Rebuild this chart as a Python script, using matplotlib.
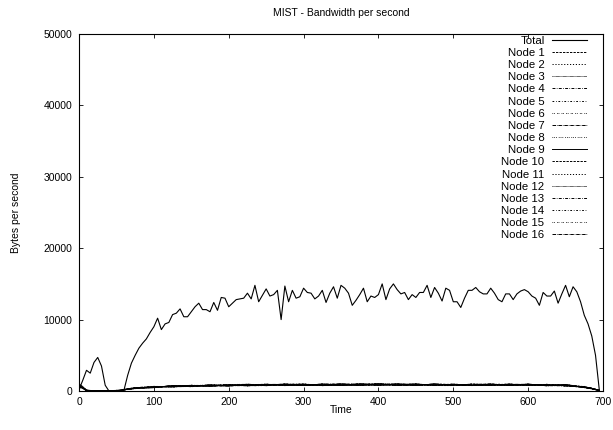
import numpy as np
import matplotlib
matplotlib.use("Agg")
import matplotlib.pyplot as plt

# sampling grid of the Total series (seconds)
total_time = list(range(0, 700, 5))
total_bytes = [
    200, 1500, 2900, 2500, 4000, 4700, 3500, 800, 0, 0,
    0, 0, 100, 2200, 3900, 5000, 6000, 6700, 7300, 8200,
    9000, 10200, 8600, 9400, 9600, 10700, 10900, 11500, 10400, 10400,
    11100, 11800, 12300, 11400, 11400, 11100, 12400, 11300, 13100, 13000,
    11800, 12300, 12800, 12900, 13000, 13700, 12900, 14800, 12500, 13400,
    14300, 13300, 13500, 14100, 10000, 14700, 12500, 14100, 13000, 13200,
    14400, 13800, 13700, 12900, 13300, 14100, 12400, 13700, 14600, 13000,
    14800, 14400, 13700, 12000, 12700, 13500, 14400, 12500, 13300, 13100,
    13500, 15000, 12800, 14300, 15000, 14200, 13600, 13800, 12800, 13500,
    13100, 13800, 13800, 14800, 13100, 14500, 13700, 12600, 14400, 14100,
    12500, 12500, 11700, 13000, 14100, 14100, 14500, 13900, 13600, 13600,
    14400, 13700, 12800, 12500, 13600, 13600, 12800, 13600, 14000, 14200,
    13900, 13300, 13000, 12000, 13800, 13300, 13300, 14000, 12300, 13600,
    14800, 13200, 14600, 13900, 12500, 10600, 9400, 7700, 5000, 200,
]

node_time = [0, 4, 10, 20, 40, 55, 65, 75, 100, 125, 150, 175, 200, 225, 250, 275, 300,
             325, 350, 375, 400, 425, 450, 475, 500, 525, 550, 575, 600, 625, 650, 675, 685, 695]
node_bytes = [
    [900, 600, 100, 20, 30, 60, 280, 480, 460, 760, 600, 860, 700, 960, 740, 1000, 760, 980, 780, 1020, 800, 1000, 780, 990, 900, 760, 980, 770, 960, 730, 900, 480, 400, 60],
    [600, 450, 60, 40, 50, 100, 200, 360, 650, 580, 800, 680, 920, 720, 960, 760, 980, 740, 1000, 790, 1020, 780, 980, 770, 760, 980, 780, 980, 760, 940, 700, 640, 280, 100],
    [1000, 700, 120, 30, 40, 70, 260, 420, 500, 720, 660, 840, 740, 900, 780, 930, 800, 940, 820, 960, 840, 820, 990, 800, 930, 790, 950, 800, 930, 760, 880, 500, 340, 50],
    [500, 400, 50, 20, 30, 90, 240, 330, 620, 600, 780, 700, 880, 760, 920, 780, 950, 780, 970, 790, 990, 960, 800, 960, 780, 940, 800, 950, 790, 920, 720, 600, 380, 90],
    [800, 550, 90, 50, 60, 80, 320, 460, 470, 700, 660, 850, 720, 880, 940, 760, 960, 820, 800, 990, 820, 960, 940, 790, 970, 800, 930, 790, 960, 770, 870, 520, 320, 70],
    [700, 500, 70, 30, 40, 110, 220, 380, 610, 570, 740, 710, 900, 940, 760, 960, 800, 780, 990, 800, 970, 820, 790, 980, 790, 930, 970, 800, 780, 920, 740, 580, 380, 110],
    [950, 650, 110, 40, 30, 70, 280, 360, 520, 740, 780, 680, 740, 760, 920, 930, 780, 940, 950, 790, 980, 940, 960, 800, 930, 770, 800, 940, 930, 750, 890, 480, 300, 80],
    [650, 480, 80, 20, 50, 90, 250, 450, 640, 590, 640, 830, 870, 790, 770, 920, 930, 760, 960, 950, 820, 980, 800, 950, 790, 930, 950, 790, 940, 790, 720, 620, 400, 60],
    [850, 620, 100, 30, 40, 80, 260, 400, 480, 720, 780, 690, 850, 740, 940, 780, 800, 960, 800, 790, 1000, 800, 960, 780, 950, 790, 800, 950, 790, 890, 760, 510, 360, 90],
    [550, 420, 60, 40, 40, 100, 240, 380, 600, 600, 640, 840, 730, 920, 780, 950, 770, 790, 970, 940, 810, 960, 790, 960, 760, 960, 930, 780, 950, 760, 880, 590, 320, 70],
    [750, 530, 90, 20, 30, 70, 300, 440, 610, 560, 800, 680, 890, 760, 760, 940, 950, 800, 790, 970, 980, 780, 970, 800, 800, 920, 790, 940, 780, 920, 740, 530, 370, 100],
    [600, 470, 70, 30, 50, 90, 220, 350, 500, 740, 620, 830, 720, 880, 930, 770, 790, 940, 960, 780, 800, 980, 930, 790, 920, 770, 960, 800, 940, 770, 870, 490, 330, 60],
    [900, 580, 100, 40, 40, 80, 270, 460, 630, 590, 770, 700, 880, 730, 780, 950, 940, 770, 800, 960, 990, 800, 800, 970, 770, 940, 800, 780, 930, 740, 740, 580, 390, 80],
    [700, 510, 80, 20, 30, 100, 250, 390, 510, 710, 680, 790, 740, 930, 880, 780, 800, 950, 960, 800, 780, 970, 790, 800, 940, 780, 940, 950, 780, 910, 720, 520, 310, 90],
    [800, 560, 90, 30, 40, 70, 240, 420, 590, 580, 760, 840, 880, 760, 930, 800, 770, 800, 980, 940, 810, 800, 960, 770, 800, 950, 800, 790, 940, 760, 880, 500, 370, 70],
    [650, 490, 70, 40, 50, 90, 260, 380, 530, 720, 660, 700, 730, 900, 780, 900, 950, 780, 800, 960, 960, 780, 810, 960, 770, 800, 960, 780, 800, 900, 730, 590, 330, 100],
]
node_labels = ["Node %d" % i for i in range(1, 17)]

# gnuplot monochrome dash cycle (8 styles, then solid, then repeats)
dash_styles = [
    (0, (2.4, 1.2)),
    (0, (1.2, 1.8)),
    (0, (0.6, 0.6)),
    (0, (3.0, 1.4, 0.7, 1.4)),
    (0, (1.8, 1.8, 0.7, 1.8)),
    (0, (0.7, 0.9, 0.7, 2.4)),
    (0, (3.6, 0.9, 0.7, 0.9)),
    (0, (0.7, 1.2, 0.7, 1.2, 0.7, 2.0)),
    "-",
]

plt.rcParams["font.family"] = ["Liberation Sans", "DejaVu Sans"]
plt.rcParams["font.size"] = 7.5

fig = plt.figure(figsize=(6.13, 4.30), dpi=100)
ax = fig.add_axes([0.1289, 0.0907, 0.8548, 0.8302])

ax.plot(total_time, total_bytes, color="black", lw=0.8, label="Total")
for i, (vals, lab) in enumerate(zip(node_bytes, node_labels)):
    ax.plot(node_time, vals, color="black", lw=0.7, linestyle=dash_styles[i % 9], label=lab)

ax.set_xlim(0, 700)
ax.set_ylim(0, 50000)
ax.set_xticks(range(0, 701, 100))
ax.set_yticks(range(0, 50001, 10000))
ax.tick_params(direction="in", length=3.2, width=0.6, top=True, right=True, pad=5, labelsize=7.5)
ax.tick_params(axis="x", pad=4)
for s in ax.spines.values():
    s.set_linewidth(0.8)

ax.set_title("MIST - Bandwidth per second", fontsize=7.5, pad=13)
ax.set_xlabel("Time", fontsize=7.5, labelpad=-1)
ax.set_ylabel("Bytes per second", fontsize=7.5, labelpad=16)

ax.legend(loc="upper right", bbox_to_anchor=(0.972, 1.0), frameon=False, markerfirst=False,
          fontsize=8.2, handlelength=3.0, handletextpad=0.7, labelspacing=0.19,
          borderaxespad=0.0, borderpad=0.15)

fig.savefig("out.png", dpi=100)
